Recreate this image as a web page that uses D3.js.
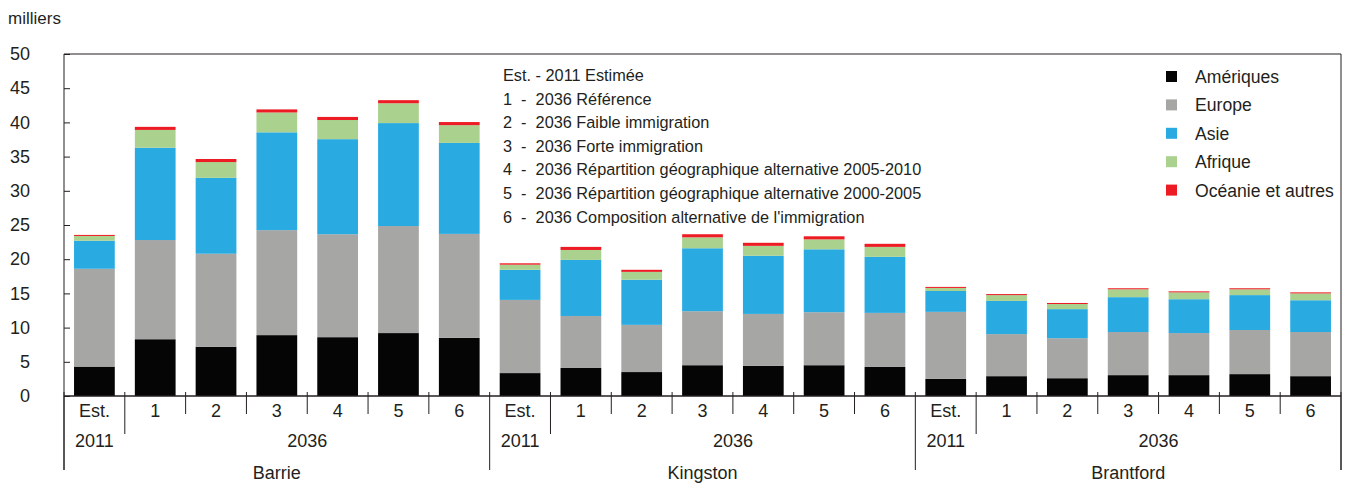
<!DOCTYPE html>
<html>
<head>
<meta charset="utf-8">
<script src="https://cdn.jsdelivr.net/npm/d3@7"></script>
<style>
  body { margin: 0; background: #fff; }
  svg text { font-family: "Liberation Sans Narrow", "Arial Narrow", "Liberation Sans", sans-serif; fill: #231f20; }
</style>
</head>
<body>
<svg id="canvas"></svg>
<script>
// ---------- donnees ----------
let cities = ['Barrie', 'Kingston', 'Brantford']
let scenarios = ['Est.', '1', '2', '3', '4', '5', '6']
let regions = ['Amériques', 'Europe', 'Asie', 'Afrique', 'Océanie et autres']
let colors = ['#050505', '#a6a6a5', '#29abe2', '#aad18e', '#ed1c24']

// valeurs en milliers, dans l'ordre Barrie (Est.,1..6), Kingston, Brantford
let ameriques = [4.3, 8.3, 7.2, 8.9, 8.6, 9.2, 8.5,
                 3.35, 4.1, 3.5, 4.5, 4.4, 4.5, 4.25,
                 2.5, 2.9, 2.6, 3.05, 3.05, 3.2, 2.9]
let europe = [14.3, 14.5, 13.6, 15.35, 15.05, 15.65, 15.2,
              10.7, 7.6, 6.9, 7.9, 7.6, 7.75, 7.9,
              9.8, 6.15, 5.85, 6.3, 6.15, 6.45, 6.45]
let asie = [4.1, 13.5, 11.1, 14.3, 13.9, 15.05, 13.3,
            4.4, 8.2, 6.6, 9.2, 8.5, 9.2, 8.2,
            3.05, 4.85, 4.25, 5.1, 4.95, 5.1, 4.65]
let afrique = [0.7, 2.6, 2.3, 2.9, 2.8, 2.9, 2.6,
               0.75, 1.45, 1.15, 1.6, 1.45, 1.45, 1.45,
               0.45, 0.85, 0.75, 1.15, 1.0, 0.85, 1.0]
let oceanie = [0.15, 0.45, 0.45, 0.45, 0.45, 0.45, 0.45,
               0.2, 0.45, 0.3, 0.45, 0.45, 0.45, 0.45,
               0.15, 0.15, 0.15, 0.15, 0.15, 0.15, 0.15]

let notes = [
  'Est. - 2011 Estimée',
  '1  -  2036 Référence',
  '2  -  2036 Faible immigration',
  '3  -  2036 Forte immigration',
  '4  -  2036 Répartition géographique alternative 2005-2010',
  '5  -  2036 Répartition géographique alternative 2000-2005',
  '6  -  2036 Composition alternative de l\'immigration'
]
let yTicks = [0, 5, 10, 15, 20, 25, 30, 35, 40, 45, 50]

// ---------- dimensions ----------
let width = 1346
let height = 483
let plotLeft = 64, plotRight = 1341, plotTop = 54, plotBottom = 396

let canvas = d3.select('#canvas').attr('width', width).attr('height', height)

// table pour d3.stack
let keys = []
let rows = []
cities.forEach((c, ci) => {
  scenarios.forEach((s, si) => {
    let i = ci * scenarios.length + si
    let key = c + '|' + s
    keys.push(key)
    rows.push({ key: key, 'Amériques': ameriques[i], 'Europe': europe[i], 'Asie': asie[i],
                'Afrique': afrique[i], 'Océanie et autres': oceanie[i] })
  })
})

let xScale = d3.scaleBand().domain(keys).range([plotLeft, plotRight]).paddingInner(0.33).paddingOuter(0.165)
let yScale = d3.scaleLinear().domain([0, 50]).range([plotBottom, plotTop])
let colorScale = d3.scaleOrdinal().domain(regions).range(colors)

let series = d3.stack().keys(regions)(rows)

// ---------- barres ----------
canvas.append('g').selectAll('g')
  .data(series)
  .enter()
  .append('g')
  .attr('fill', d => colorScale(d.key))
  .selectAll('rect')
  .data(d => d)
  .enter()
  .append('rect')
  .attr('x', d => xScale(d.data.key))
  .attr('width', xScale.bandwidth())
  .attr('y', d => yScale(d[1]))
  .attr('height', d => yScale(d[0]) - yScale(d[1]))

// ---------- cadre ----------
let step = (plotRight - plotLeft) / keys.length
let frame = canvas.append('g').attr('stroke', '#231f20').attr('fill', 'none')
frame.append('line').attr('x1', plotLeft).attr('x2', plotRight).attr('y1', plotTop).attr('y2', plotTop)
frame.append('line').attr('x1', plotRight).attr('x2', plotRight).attr('y1', plotTop).attr('y2', 470)

// ---------- axe y ----------
let yAxis = d3.axisRight(yScale).tickValues(yTicks).tickSize(6).tickFormat(d3.format('d'))
let gy = canvas.append('g').attr('transform', 'translate(' + plotLeft + ',0)').call(yAxis)
gy.select('.domain').remove()
gy.selectAll('.tick line').attr('stroke', '#231f20')
gy.selectAll('.tick text')
  .attr('x', 30 - plotLeft).attr('text-anchor', 'end')
  .style('font-size', '18px')
canvas.append('line').attr('x1', plotLeft).attr('x2', plotLeft).attr('y1', plotTop).attr('y2', 470)
  .attr('stroke', '#231f20')

canvas.append('text').attr('x', 8).attr('y', 24).style('font-size', '17px').text('milliers')

// ---------- axe x ----------
canvas.append('line').attr('x1', plotLeft).attr('x2', plotRight).attr('y1', plotBottom).attr('y2', plotBottom)
  .attr('stroke', '#231f20').attr('stroke-width', 1.5)

let bounds = d3.range(keys.length + 1)
canvas.append('g').selectAll('line')
  .data(bounds)
  .enter()
  .append('line')
  .attr('x1', i => plotLeft + i * step)
  .attr('x2', i => plotLeft + i * step)
  .attr('y1', 392)
  .attr('y2', i => i % 7 === 0 ? 470 : (i % 7 === 1 ? 434 : 414))
  .attr('stroke', '#231f20')

canvas.append('g').selectAll('text')
  .data(keys)
  .enter()
  .append('text')
  .attr('x', k => xScale(k) + xScale.bandwidth() / 2)
  .attr('y', 417)
  .attr('text-anchor', 'middle')
  .style('font-size', '18px')
  .text(k => k.split('|')[1])

cities.forEach((c, ci) => {
  let x0 = xScale(c + '|Est.') + xScale.bandwidth() / 2
  let x1 = xScale(c + '|1') - xScale.step() * xScale.paddingInner() / 2
  let x2 = xScale(c + '|6') + xScale.bandwidth() + xScale.step() * xScale.paddingInner() / 2
  canvas.append('text').attr('x', x0).attr('y', 447).attr('text-anchor', 'middle')
    .style('font-size', '18px').text('2011')
  canvas.append('text').attr('x', (x1 + x2) / 2).attr('y', 447).attr('text-anchor', 'middle')
    .style('font-size', '18px').text('2036')
  let g0 = xScale(c + '|Est.') - xScale.step() * xScale.paddingInner() / 2
  canvas.append('text').attr('x', (g0 + x2) / 2).attr('y', 479).attr('text-anchor', 'middle')
    .style('font-size', '18px').text(c)
})

// ---------- notes ----------
canvas.append('g').selectAll('text')
  .data(notes)
  .enter()
  .append('text')
  .attr('x', 503)
  .attr('y', (d, i) => 81 + i * 23.6)
  .style('font-size', '16.3px')
  .style('white-space', 'pre')
  .text(d => d)

// ---------- legende ----------
let legend = canvas.append('g').selectAll('g')
  .data(regions)
  .enter()
  .append('g')
  .attr('transform', (d, i) => 'translate(1166,' + (76 + i * 28.4) + ')')
legend.append('rect').attr('x', 0).attr('y', -5).attr('width', 11).attr('height', 11)
  .attr('fill', d => colorScale(d))
legend.append('text').attr('x', 29).attr('y', 7).style('font-size', '17.6px').text(d => d)
</script>
</body>
</html>
